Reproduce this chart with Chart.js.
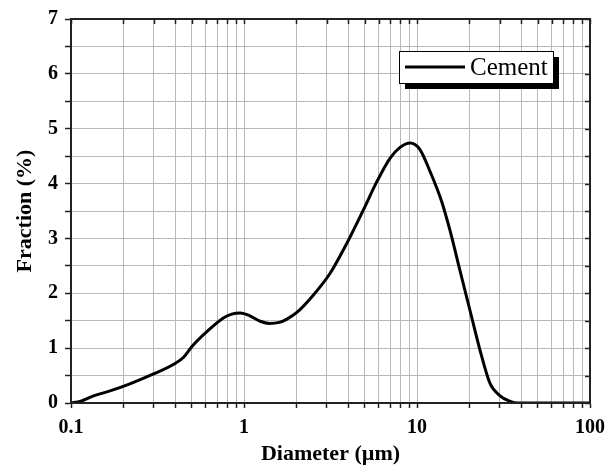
<!DOCTYPE html>
<html>
<head>
<meta charset="utf-8">
<script src="https://cdn.jsdelivr.net/npm/chart.js@4/dist/chart.umd.min.js"></script>
<style>
  html, body { margin: 0; padding: 0; background: #fff; }
  canvas { display: block; }
</style>
</head>
<body>
<canvas id="c" width="607" height="470"></canvas>
<script>
// ---- data ----
const seriesLabel = 'Cement';
const diameters = [0.1, 0.113, 0.135, 0.168, 0.219, 0.30, 0.40, 0.446, 0.50, 0.61, 0.76, 0.85, 0.95, 1.08, 1.24, 1.40, 1.60, 1.77, 2.02, 2.52, 3.14, 3.93, 4.90, 5.85, 6.98, 7.98, 9.12, 10.4, 11.9, 13.9, 15.5, 17.7, 20.2, 23.1, 26.4, 30.2, 34.5, 38.5, 50, 70, 100];
const fractions = [0, 0.03, 0.13, 0.22, 0.35, 0.53, 0.72, 0.83, 1.03, 1.30, 1.55, 1.62, 1.64, 1.59, 1.49, 1.45, 1.47, 1.53, 1.65, 1.97, 2.36, 2.91, 3.52, 4.03, 4.46, 4.66, 4.74, 4.62, 4.22, 3.67, 3.15, 2.42, 1.70, 0.97, 0.36, 0.13, 0.03, 0, 0, 0, 0];
const xTickValues = [0.1,0.2,0.3,0.4,0.5,0.6,0.7,0.8,0.9,1,2,3,4,5,6,7,8,9,10,20,30,40,50,60,70,80,90,100];
const xLabelValues = [0.1, 1, 10, 100];
const xLabelTexts = ['0.1', '1', '10', '100'];
const yTickValues = [0,0.5,1,1.5,2,2.5,3,3.5,4,4.5,5,5.5,6,6.5,7];
const yLabelValues = [0,1,2,3,4,5,6,7];
const xTitle = 'Diameter (\u00B5m)';
const yTitle = 'Fraction (%)';

const points = diameters.map((d, i) => ({ x: d, y: fractions[i] }));

const tickFont = { family: 'Liberation Serif', size: 20, weight: 'bold' };
const titleFont = { family: 'Liberation Serif', size: 22, weight: 'bold' };
const gridColor = '#b9b9b9';
const axisColor = '#222';

const framePlugin = {
  id: 'frame',
  afterDatasetsDraw(chart) {
    const { ctx, chartArea: a, scales } = chart;
    ctx.save();
    ctx.strokeStyle = axisColor;
    ctx.lineWidth = 1.5;
    scales.y.ticks.forEach(t => {
      const y = Math.round(scales.y.getPixelForValue(t.value)) + 0.5;
      ctx.beginPath(); ctx.moveTo(a.right, y); ctx.lineTo(a.right - 5, y); ctx.stroke();
    });
    scales.x.ticks.forEach(t => {
      const x = Math.round(scales.x.getPixelForValue(t.value)) + 0.5;
      ctx.beginPath(); ctx.moveTo(x, a.top); ctx.lineTo(x, a.top + 5); ctx.stroke();
    });
    ctx.lineWidth = 2;
    ctx.strokeRect(a.left, a.top, a.right - a.left, a.bottom - a.top);

    // legend with shadow
    const bx = 399, by = 51, bw = 154, bh = 32;
    ctx.fillStyle = '#000';
    ctx.fillRect(bx + 6, by + 6, bw, bh);
    ctx.fillStyle = '#fff';
    ctx.fillRect(bx, by, bw, bh);
    ctx.strokeStyle = '#000';
    ctx.lineWidth = 1;
    ctx.strokeRect(bx + 0.5, by + 0.5, bw, bh);
    const ds = chart.data.datasets[0];
    ctx.strokeStyle = ds.borderColor;
    ctx.lineWidth = ds.borderWidth;
    ctx.beginPath(); ctx.moveTo(405, by + 16); ctx.lineTo(465, by + 16); ctx.stroke();
    ctx.fillStyle = '#000';
    ctx.font = '25px "Liberation Serif"';
    ctx.textBaseline = 'middle';
    ctx.textAlign = 'left';
    ctx.fillText(ds.label, 470, by + 17);
    ctx.restore();
  }
};

new Chart(document.getElementById('c'), {
  type: 'line',
  data: {
    datasets: [{
      label: seriesLabel,
      data: points,
      borderColor: '#000',
      borderWidth: 3,
      pointRadius: 0,
      fill: false,
      cubicInterpolationMode: 'monotone'
    }]
  },
  options: {
    responsive: false,
    animation: false,
    layout: { padding: { top: 19, right: 17, left: 0, bottom: 0 } },
    plugins: { legend: { display: false }, tooltip: { enabled: false } },
    scales: {
      x: {
        type: 'logarithmic',
        min: 0.1, max: 100,
        afterBuildTicks: s => { s.ticks = xTickValues.map(v => ({ value: v })); },
        afterFit: s => { s.height = 67; s.paddingLeft = 0; s.paddingRight = 0; },
        ticks: {
          autoSkip: false, maxRotation: 0, minRotation: 0, padding: 8,
          color: '#000', font: tickFont,
          callback: (v) => {
            const i = xLabelValues.findIndex(l => Math.abs(l - v) < 1e-9);
            return i >= 0 ? xLabelTexts[i] : '';
          }
        },
        grid: { color: gridColor, lineWidth: 1, tickLength: 5, tickColor: axisColor, tickWidth: 1.5 },
        border: { color: axisColor, width: 2 },
        title: { display: true, text: xTitle, color: '#000', font: titleFont, padding: { top: 0, bottom: 2 } }
      },
      y: {
        min: 0, max: 7,
        afterBuildTicks: s => { s.ticks = yTickValues.map(v => ({ value: v })); },
        afterFit: s => { s.width = 71; s.paddingTop = 0; s.paddingBottom = 0; },
        ticks: {
          padding: 7, color: '#000', font: tickFont,
          callback: (v) => yLabelValues.includes(v) ? String(v) : ''
        },
        grid: { color: gridColor, lineWidth: 1, tickLength: 6, tickColor: axisColor, tickWidth: 1.5 },
        border: { color: axisColor, width: 2 },
        title: { display: true, text: yTitle, color: '#000', font: titleFont, padding: { top: 12, bottom: 0 } }
      }
    }
  },
  plugins: [framePlugin]
});
</script>
</body>
</html>
